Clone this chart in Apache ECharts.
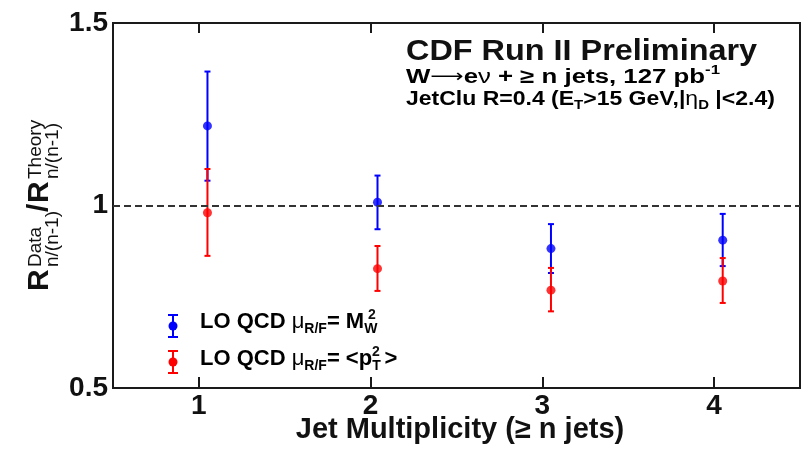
<!DOCTYPE html>
<html>
<head>
<meta charset="utf-8">
<script src="https://cdn.jsdelivr.net/npm/echarts@6/dist/echarts.min.js"></script>
<style>
  html, body { margin: 0; padding: 0; background: #fff; }
  #chart { width: 804px; height: 451px; }
</style>
</head>
<body>
<div id="chart"></div>
<script>
// ---- data ----
const xTicks = [1, 2, 3, 4];                    // jet multiplicity tick labels
const yTicks = [0.5, 1, 1.5];
const xPos = [1.05, 2.04, 3.05, 4.05];          // plotted x positions of the points
const blueVal  = [1.218, 1.009, 0.882, 0.905];  // LO QCD mu = M_W^2
const blueLow  = [1.068, 0.935, 0.815, 0.834];
const blueHigh = [1.367, 1.082, 0.949, 0.977];
const redVal   = [0.980, 0.827, 0.768, 0.793];  // LO QCD mu = <pT^2>
const redLow   = [0.862, 0.766, 0.710, 0.733];
const redHigh  = [1.100, 0.889, 0.829, 0.856];
const refLine = 1;
const xTitle = 'Jet Multiplicity (\u2265 n jets)';

const FONT = "'Liberation Sans', Arial, Helvetica, sans-serif";
const BLUE = '#0000ff', RED = '#ff0000', INK = '#111111';

function errRender(color) {
  return function (params, api) {
    const x = api.value(0), lo = api.value(1), hi = api.value(2);
    const p1 = api.coord([x, lo]), p2 = api.coord([x, hi]);
    const w = 3;
    const style = { stroke: color, lineWidth: 2 };
    return {
      type: 'group',
      children: [
        { type: 'line', shape: { x1: p1[0], y1: p1[1], x2: p2[0], y2: p2[1] }, style: style },
        { type: 'line', shape: { x1: p1[0] - w, y1: p1[1], x2: p1[0] + w, y2: p1[1] }, style: style },
        { type: 'line', shape: { x1: p2[0] - w, y1: p2[1], x2: p2[0] + w, y2: p2[1] }, style: style }
      ]
    };
  };
}

function legendMarker(cx, cy, color) {
  const s = { stroke: color, lineWidth: 2 };
  return {
    type: 'group', x: cx, y: cy, silent: true,
    children: [
      { type: 'line', shape: { x1: 0, y1: -11, x2: 0, y2: 11 }, style: s },
      { type: 'line', shape: { x1: -5, y1: -11, x2: 5, y2: -11 }, style: s },
      { type: 'line', shape: { x1: -5, y1: 11, x2: 5, y2: 11 }, style: s },
      { type: 'circle', shape: { cx: 0, cy: 0, r: 4.5 }, style: { fill: color } }
    ]
  };
}

function txt(x, y, text, font, extra) {
  return Object.assign({
    type: 'text', x: x, y: y, silent: true,
    style: Object.assign({ text: text, font: font, fill: INK, textAlign: 'left', textVerticalAlign: 'middle' }, (extra && extra.style) || {})
  }, (extra && extra.el) || {});
}

const richBase = {
  b: { fontFamily: FONT, fontWeight: 'bold', fontSize: 20, lineHeight: 26, color: INK, verticalAlign: 'middle' },
  g: { fontFamily: FONT, fontWeight: 'normal', fontSize: 20, lineHeight: 26, color: INK, verticalAlign: 'middle' },
  ar: { fontFamily: "'DejaVu Sans', sans-serif", fontWeight: 'normal', fontSize: 18, lineHeight: 26, color: INK, verticalAlign: 'middle' },
  sub: { fontFamily: FONT, fontWeight: 'bold', fontSize: 13, lineHeight: 13, color: INK, verticalAlign: 'bottom' },
  sup: { fontFamily: FONT, fontWeight: 'bold', fontSize: 13, lineHeight: 13, color: INK, verticalAlign: 'top' }
};
const richLeg = {
  b: { fontFamily: FONT, fontWeight: 'bold', fontSize: 22, lineHeight: 28, color: INK, verticalAlign: 'middle' },
  g: { fontFamily: FONT, fontWeight: 'normal', fontSize: 22, lineHeight: 28, color: INK, verticalAlign: 'middle' },
  sub: { fontFamily: FONT, fontWeight: 'bold', fontSize: 14, lineHeight: 14, color: INK, verticalAlign: 'bottom' }
};

// y-axis title, built along a rotated baseline
const yTitle = {
  type: 'group', x: 50, y: 291, rotation: Math.PI / 2, silent: true,
  children: [
    txt(0, -10.5, 'R', 'bold 30px ' + FONT),
    txt(24, -14.5, 'Data', 'normal 19px ' + FONT),
    txt(24, 3, 'n/(n-1)', 'normal 19px ' + FONT),
    txt(79, -10.5, '/', 'bold 30px ' + FONT),
    txt(88, -10.5, 'R', 'bold 30px ' + FONT),
    txt(112, -14.5, 'Theory', 'normal 19px ' + FONT),
    txt(112, 3, 'n/(n-1)', 'normal 19px ' + FONT)
  ]
};

const chart = echarts.init(document.getElementById('chart'), null, { renderer: 'canvas' });
chart.setOption({
  animation: false,
  backgroundColor: '#ffffff',
  grid: { left: 113, right: 4, top: 23, bottom: 63, outerBoundsMode: 'none', containLabel: false,
          show: true, borderColor: '#1a1a1a', borderWidth: 2, backgroundColor: 'transparent' },
  xAxis: [{
    type: 'value', min: 0.5, max: 4.5, position: 'bottom',
    axisLine: { show: false },
    axisTick: { show: true, inside: true, length: 11, customValues: xTicks, lineStyle: { color: '#1a1a1a', width: 2 } },
    axisLabel: { show: true, customValues: xTicks, margin: 4, fontFamily: FONT, fontWeight: 'bold', fontSize: 28, color: INK },
    splitLine: { show: false }
  }, {
    type: 'value', min: 0.5, max: 4.5, position: 'top',
    axisLine: { show: false },
    axisTick: { show: true, inside: true, length: 10, customValues: xTicks, lineStyle: { color: '#1a1a1a', width: 2 } },
    axisLabel: { show: false },
    splitLine: { show: false }
  }],
  yAxis: {
    type: 'value', min: 0.5, max: 1.5, interval: 0.5,
    axisLine: { show: false },
    axisTick: { show: false },
    axisLabel: { show: true, customValues: yTicks, margin: 5, fontFamily: FONT, fontWeight: 'bold', fontSize: 28, color: INK },
    splitLine: { show: false }
  },
  series: [
    {
      type: 'custom', name: 'blueErr', renderItem: errRender(BLUE), silent: true, z: 3,
      encode: { x: 0, y: [1, 2] },
      data: xPos.map((x, i) => [x, blueLow[i], blueHigh[i]]),
      markLine: {
        silent: true, symbol: 'none', label: { show: false },
        lineStyle: { type: [7, 4], color: '#333333', width: 2 },
        data: [{ yAxis: refLine }]
      }
    },
    {
      type: 'custom', name: 'redErr', renderItem: errRender(RED), silent: true, z: 3,
      encode: { x: 0, y: [1, 2] },
      data: xPos.map((x, i) => [x, redLow[i], redHigh[i]])
    },
    {
      type: 'scatter', name: 'LO QCD M_W^2', symbol: 'circle', symbolSize: 9, z: 4,
      itemStyle: { color: BLUE },
      data: xPos.map((x, i) => [x, blueVal[i]])
    },
    {
      type: 'scatter', name: 'LO QCD <pT^2>', symbol: 'circle', symbolSize: 9, z: 4,
      itemStyle: { color: RED },
      data: xPos.map((x, i) => [x, redVal[i]])
    }
  ],
  graphic: [
    txt(460, 430, xTitle, 'bold 29px ' + FONT, { style: { textAlign: 'center' } }),
    txt(406, 52, 'CDF Run II Preliminary', 'bold 30px ' + FONT, { el: { scaleX: 1.08 } }),
    {
      type: 'text', x: 406, y: 77, silent: true, scaleX: 1.29,
      style: { text: '{b|W}{ar|\u27f6}{b|e}{g|\u03bd}{b| + \u2265 n jets, 127 pb}{sup|-1}', rich: richBase, textAlign: 'left', textVerticalAlign: 'middle' }
    },
    {
      type: 'text', x: 406, y: 99, silent: true, scaleX: 1.15,
      style: { text: '{b|JetClu R=0.4 (E}{sub|T}{b|>15 GeV,|}{g|\u03b7}{sub|D}{b| |<2.4)}', rich: richBase, textAlign: 'left', textVerticalAlign: 'middle' }
    },
    legendMarker(173, 326, BLUE),
    legendMarker(173, 362, RED),
    {
      type: 'text', x: 200, y: 322, silent: true,
      style: { text: '{b|LO QCD }{g|\u03bc}{sub|R/F}{b|= M}{sub|W}', rich: richLeg, textAlign: 'left', textVerticalAlign: 'middle' }
    },
    txt(368, 315, '2', 'bold 14px ' + FONT),
    {
      type: 'text', x: 200, y: 359, silent: true,
      style: { text: '{b|LO QCD }{g|\u03bc}{sub|R/F}{b|= <p}{sub|T }{b|>}', rich: richLeg, textAlign: 'left', textVerticalAlign: 'middle' }
    },
    txt(372, 352, '2', 'bold 14px ' + FONT),
    yTitle
  ]
});
</script>
</body>
</html>
